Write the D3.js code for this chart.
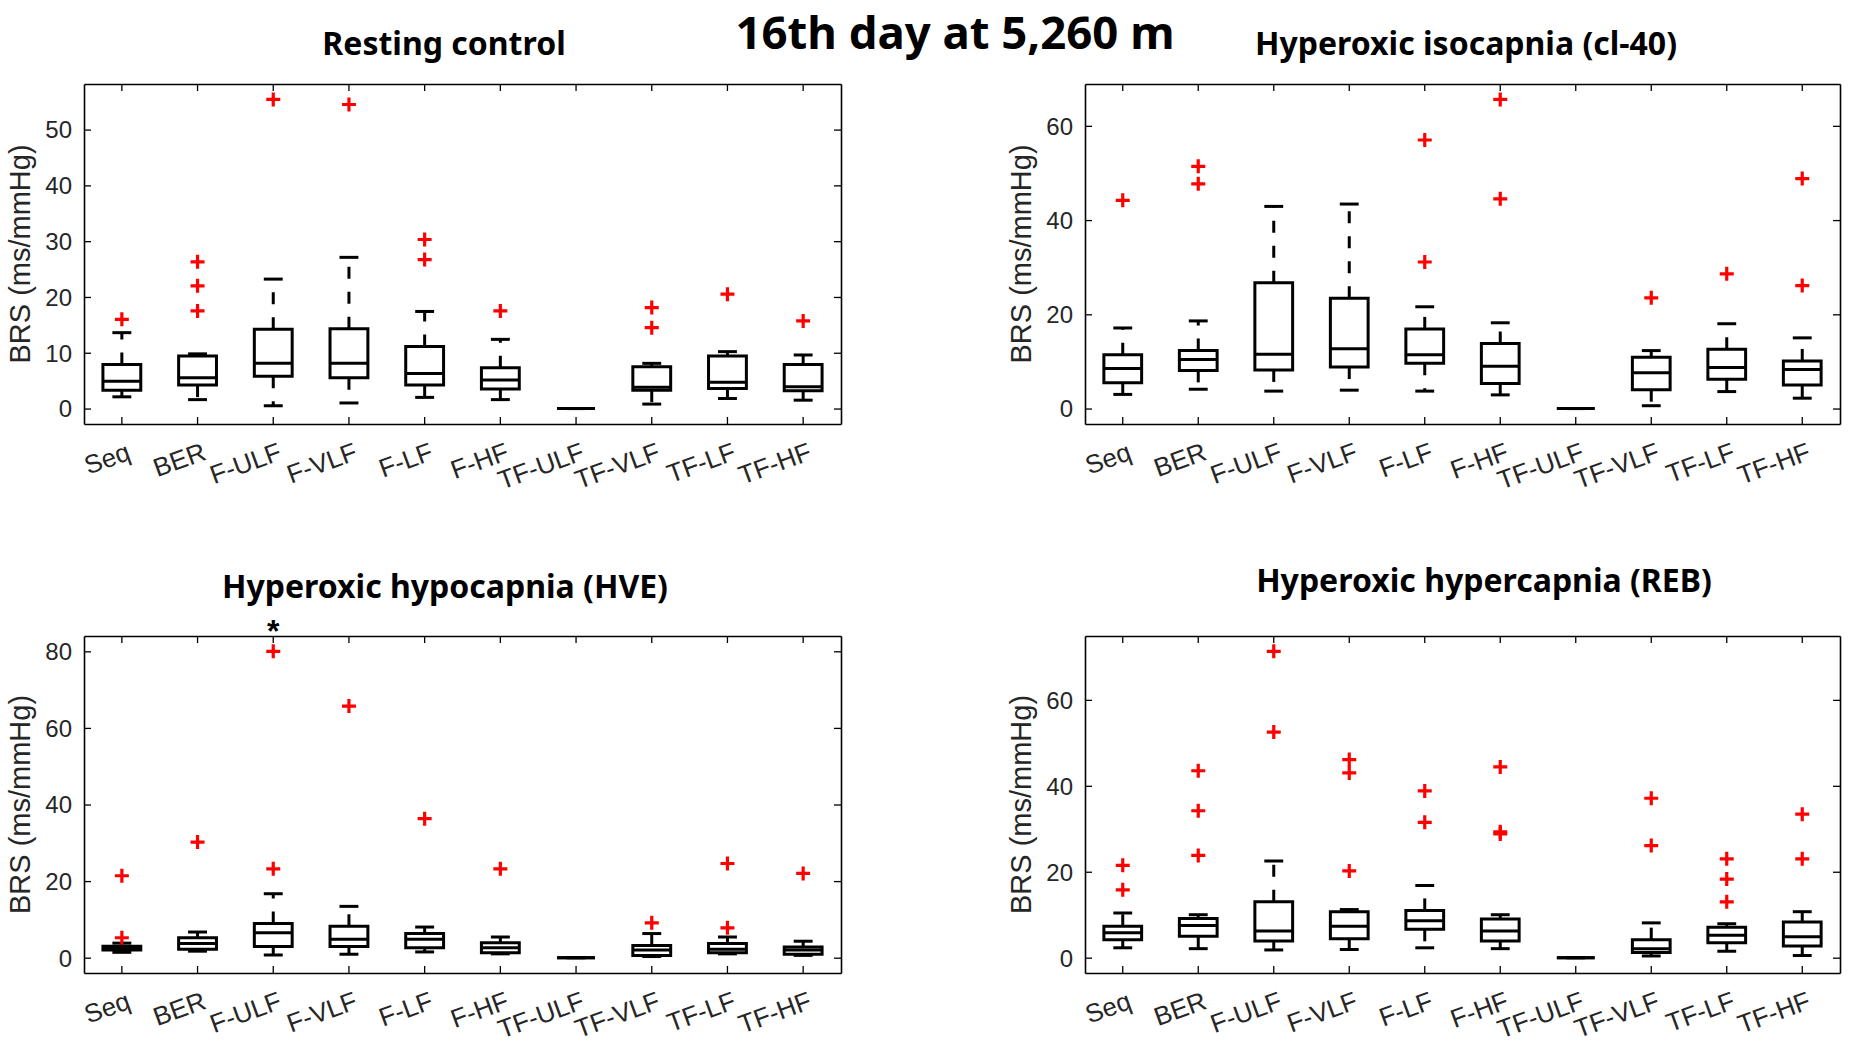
<!DOCTYPE html>
<html><head><meta charset="utf-8">
<script src="https://cdn.jsdelivr.net/npm/d3@7"></script>
<style>body{margin:0;background:#fff} svg{display:block}</style>
</head><body>
<svg id="chart" width="1850" height="1057"></svg>
<script>
const categories = ["Seq","BER","F-ULF","F-VLF","F-LF","F-HF","TF-ULF","TF-VLF","TF-LF","TF-HF"];

// each row: [lower whisker, Q1, median, Q3, upper whisker]
const restingStats = [
  [2.1, 3.3, 4.9, 7.9, 13.6],
  [1.6, 4.2, 5.5, 9.4, 9.8],
  [0.5, 5.8, 8.1, 14.2, 23.2],
  [1.0, 5.5, 8.1, 14.3, 27.1],
  [2.0, 4.2, 6.3, 11.1, 17.4],
  [1.6, 3.5, 5.1, 7.3, 12.4],
  [0, 0, 0, 0, 0],
  [0.8, 3.3, 3.8, 7.5, 8.1],
  [1.8, 3.6, 4.7, 9.4, 10.2],
  [1.5, 3.2, 3.9, 7.9, 9.6]
];
const restingOutliers = [[16.0],[26.3,22.0,17.5],[55.4],[54.5],[30.3,26.7],[17.5],[],[18.1,14.5],[20.5],[15.7]];

const isocapniaStats = [
  [3.0, 5.5, 8.5, 11.4, 17.1],
  [4.1, 8.1, 10.4, 12.3, 18.6],
  [3.7, 8.2, 11.5, 26.7, 42.9],
  [3.9, 8.8, 12.7, 23.4, 43.4],
  [3.7, 9.6, 11.4, 16.9, 21.6],
  [2.9, 5.3, 9.0, 13.8, 18.2],
  [0, 0, 0, 0, 0],
  [0.6, 4.0, 7.6, 10.9, 12.3],
  [3.6, 6.2, 8.7, 12.6, 18.0],
  [2.2, 5.0, 8.3, 10.1, 15.0]
];
const isocapniaOutliers = [[44.2],[51.4,47.7],[],[],[57.0,31.1],[65.6,44.5],[],[23.5],[28.6],[48.8,26.1]];

const hypocapniaStats = [
  [1.4, 2.0, 2.5, 3.0, 3.8],
  [1.7, 2.2, 3.7, 5.2, 6.7],
  [0.7, 2.9, 6.5, 8.9, 16.7],
  [0.9, 2.9, 4.8, 8.2, 13.4],
  [1.5, 2.6, 4.8, 6.3, 8.0],
  [1.0, 1.3, 2.6, 3.9, 5.4],
  [0, 0, 0, 0, 0],
  [0.3, 0.6, 2.0, 3.2, 6.3],
  [1.0, 1.3, 2.2, 3.7, 5.4],
  [0.6, 0.9, 2.0, 2.8, 4.3]
];
const hypocapniaOutliers = [[21.4,5.2],[30.2],[80.0,23.2],[65.7],[36.3],[23.2],[],[9.1],[24.6,7.8],[22.0]];

const hypercapniaStats = [
  [2.3, 4.2, 5.8, 7.3, 10.4],
  [2.1, 5.0, 7.5, 9.1, 10.0],
  [1.8, 3.9, 6.2, 13.0, 22.5],
  [1.9, 4.4, 7.3, 10.7, 11.2],
  [2.3, 6.6, 8.6, 11.0, 16.8],
  [2.1, 3.9, 6.2, 9.0, 10.0],
  [0, 0, 0, 0, 0],
  [0.4, 1.2, 2.1, 4.2, 8.1],
  [1.5, 3.5, 5.2, 7.1, 7.9],
  [0.5, 2.7, 4.9, 8.3, 10.7]
];
const hypercapniaOutliers = [[21.5,15.8],[43.5,34.2,23.8],[71.3,52.5],[46.1,43.0,20.2],[38.8,31.5],[44.4,29.3,28.8],[],[37.1,26.1],[23.0,18.3,13.0],[33.4,23.0]];

const yTicksResting = [0,10,20,30,40,50];
const yTicksIsocapnia = [0,20,40,60];
const yTicksHypocapnia = [0,20,40,60,80];
const yTicksHypercapnia = [0,20,40,60];

const panelTitles = ["Resting control","Hyperoxic isocapnia (cl-40)","Hyperoxic hypocapnia (HVE)","Hyperoxic hypercapnia (REB)"];
const mainTitle = "16th day at 5,260 m";
const yLabel = "BRS (ms/mmHg)";
const starCategory = "F-ULF"; // marked in hypocapnia panel

const panels = [
  {title: panelTitles[0], stats: restingStats, outliers: restingOutliers, ticks: yTicksResting, x0: 84, x1: 841, y0: 84, y1: 424, tx: 444, ty: 55},
  {title: panelTitles[1], stats: isocapniaStats, outliers: isocapniaOutliers, ticks: yTicksIsocapnia, x0: 1085, x1: 1840, y0: 84, y1: 424, tx: 1466, ty: 55},
  {title: panelTitles[2], stats: hypocapniaStats, outliers: hypocapniaOutliers, ticks: yTicksHypocapnia, x0: 84, x1: 841, y0: 636, y1: 973, tx: 445, ty: 598, star: true},
  {title: panelTitles[3], stats: hypercapniaStats, outliers: hypercapniaOutliers, ticks: yTicksHypercapnia, x0: 1085, x1: 1840, y0: 636, y1: 973, tx: 1484, ty: 592}
];

const svg = d3.select("#chart");
const TXT = "#262626";
const SANS = "'Liberation Sans', Arial, sans-serif";
const BOLD = "'Noto Sans', 'Open Sans', sans-serif";

svg.append("text")
  .attr("x", 955).attr("y", 49)
  .attr("text-anchor", "middle")
  .attr("font-family", BOLD).attr("font-weight", 700).attr("font-size", 45.5)
  .attr("fill", "#000")
  .text(mainTitle);

panels.forEach(p => {
  const vals = p.stats.flat().concat(p.outliers.flat());
  const lo = d3.min(vals), hi = d3.max(vals), pad = (hi - lo) * 0.05;
  const y = d3.scaleLinear().domain([lo - pad, hi + pad]).range([p.y1, p.y0]);
  const x = d3.scaleBand().domain(categories).range([p.x0, p.x1]).padding(0);
  const step = x.bandwidth();
  const cx = c => x(c) + step / 2;
  const g = svg.append("g");

  // axes (box on, ticks inward)
  const left = g.append("g").attr("transform", `translate(${p.x0},0)`)
    .call(d3.axisLeft(y).tickValues(p.ticks).tickSizeInner(-7).tickSizeOuter(0).tickPadding(12));
  const right = g.append("g").attr("transform", `translate(${p.x1},0)`)
    .call(d3.axisRight(y).tickValues(p.ticks).tickSizeInner(-7).tickSizeOuter(0).tickFormat(""));
  const bottom = g.append("g").attr("transform", `translate(0,${p.y1})`)
    .call(d3.axisBottom(x).tickSizeInner(-7).tickSizeOuter(0).tickPadding(0));
  const top = g.append("g").attr("transform", `translate(0,${p.y0})`)
    .call(d3.axisTop(x).tickSizeInner(-7).tickSizeOuter(0).tickFormat(""));

  [left, right, bottom, top].forEach(a => {
    a.select(".domain").attr("stroke", "#000").attr("stroke-width", 1.6);
    a.selectAll(".tick line").attr("stroke", "#000").attr("stroke-width", 1.3);
  });
  left.selectAll(".tick text")
    .attr("font-family", SANS).attr("font-size", 24).attr("fill", TXT)
    .attr("dy", "0.35em");
  bottom.selectAll(".tick text")
    .attr("font-family", SANS).attr("font-size", 26).attr("fill", TXT)
    .attr("y", 0).attr("dy", 0)
    .attr("text-anchor", "end")
    .attr("transform", "translate(10,35) rotate(-20)");

  // y label
  g.append("text")
    .attr("transform", `translate(${p.x0 - 54},${(p.y0 + p.y1) / 2}) rotate(-90)`)
    .attr("text-anchor", "middle")
    .attr("font-family", SANS).attr("font-size", 29).attr("fill", TXT)
    .text(yLabel);

  // title
  g.append("text")
    .attr("x", p.tx).attr("y", p.ty)
    .attr("text-anchor", "middle")
    .attr("font-family", BOLD).attr("font-weight", 700).attr("font-size", 32)
    .attr("fill", "#000")
    .text(p.title);

  // boxes
  const bw = step * 0.5, cw = step * 0.25;
  const items = categories.map((c, i) => ({c, s: p.stats[i], o: p.outliers[i]}));
  const bg = g.append("g").attr("fill", "none").attr("stroke", "#000").attr("stroke-width", 3);
  items.forEach(d => {
    const xc = cx(d.c);
    const [lw, q1, md, q3, uw] = d.s;
    // whiskers (dashed)
    bg.append("line").attr("x1", xc).attr("x2", xc).attr("y1", y(q3)).attr("y2", y(uw))
      .attr("stroke-dasharray", "12,13");
    bg.append("line").attr("x1", xc).attr("x2", xc).attr("y1", y(q1)).attr("y2", y(lw))
      .attr("stroke-dasharray", "12,13");
    // caps
    bg.append("line").attr("x1", xc - cw / 2).attr("x2", xc + cw / 2).attr("y1", y(uw)).attr("y2", y(uw));
    bg.append("line").attr("x1", xc - cw / 2).attr("x2", xc + cw / 2).attr("y1", y(lw)).attr("y2", y(lw));
    // box
    bg.append("path").attr("d",
      `M${xc - bw / 2},${y(q3)}H${xc + bw / 2}V${y(q1)}H${xc - bw / 2}Z`);
    // median
    bg.append("line").attr("x1", xc - bw / 2).attr("x2", xc + bw / 2).attr("y1", y(md)).attr("y2", y(md));
    // outliers
    d.o.forEach(v => {
      const yy = y(v);
      g.append("path")
        .attr("d", `M${xc - 7},${yy}H${xc + 7}M${xc},${yy - 7}V${yy + 7}`)
        .attr("stroke", "#f00").attr("stroke-width", 3.2).attr("fill", "none");
    });
  });

  if (p.star) {
    g.append("text")
      .attr("x", cx(starCategory)).attr("y", p.y0 + 6)
      .attr("text-anchor", "middle")
      .attr("font-family", SANS).attr("font-weight", 700).attr("font-size", 32)
      .attr("fill", "#000")
      .text("*");
  }
});
</script>
</body></html>
